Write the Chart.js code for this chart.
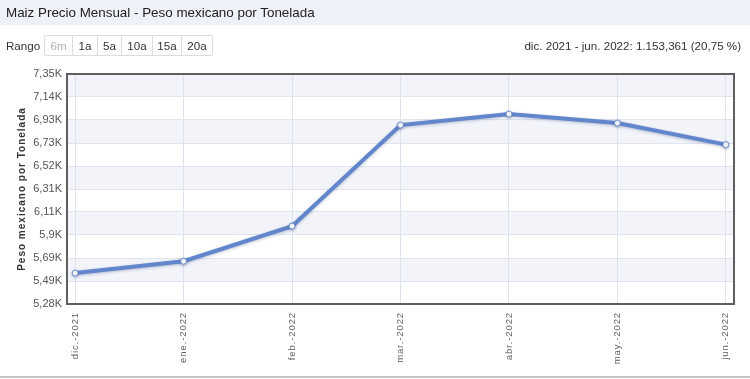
<!DOCTYPE html>
<html>
<head>
<meta charset="utf-8">
<script src="https://cdn.jsdelivr.net/npm/chart.js@4.4.1/dist/chart.umd.min.js"></script>
<style>
  html, body { margin:0; padding:0; background:#fff; }
  #wrap { position:relative; width:750px; height:379px; overflow:hidden; font-family:"Liberation Sans", Arial, sans-serif; }
  #hdr { position:absolute; left:0; top:0; width:750px; height:25px; background:#eef1f8; }
  #ttl { position:absolute; left:6px; top:5px; font-size:13.4px; color:#222; white-space:nowrap; }
  #rng { position:absolute; left:6px; top:39px; font-size:11.6px; color:#333; }
  #btns { position:absolute; left:44px; top:35px; height:21px; display:flex; border:1px solid #dcdcdc; border-radius:2px; box-sizing:border-box; }
  #btns div { height:19px; line-height:19px; font-size:11.6px; color:#333; text-align:center; border-left:1px solid #dcdcdc; box-sizing:border-box; }
  #btns div:first-child { border-left:none; color:#b0b0b0; }
  #chg { position:absolute; right:9px; top:39px; font-size:11.6px; color:#333; white-space:nowrap; }
  #bot { position:absolute; left:0; top:376px; width:750px; height:2px; background:#c4c4c4; }
  canvas { position:absolute; left:0; top:0; }
</style>
</head>
<body>
<div id="wrap">
  <canvas id="c" width="750" height="379"></canvas>
  <div id="hdr"><div id="ttl">Maiz Precio Mensual - Peso mexicano por Tonelada</div></div>
  <div id="rng">Rango</div>
  <div id="btns"></div>
  <div id="chg">dic. 2021 - jun. 2022: 1.153,361 (20,75 %)</div>
  <div id="bot"></div>
</div>
<script>
const categories = ['dic.-2021','ene.-2022','feb.-2022','mar.-2022','abr.-2022','may.-2022','jun.-2022'];
const prices = [5558, 5665, 5980, 6888, 6987, 6906, 6712];
const yTickValues = [5280, 5486.7, 5693.4, 5900.1, 6106.8, 6313.5, 6520.2, 6726.9, 6933.6, 7140.3, 7347];
const yTickLabels = ['5,28K','5,49K','5,69K','5,9K','6,11K','6,31K','6,52K','6,73K','6,93K','7,14K','7,35K'];
const rangeButtons = ['6m','1a','5a','10a','15a','20a'];
const buttonWidths = [27, 25, 24, 31, 29, 31];

const btns = document.getElementById('btns');
rangeButtons.forEach((b, i) => {
  const d = document.createElement('div');
  d.textContent = b;
  d.style.width = buttonWidths[i] + 'px';
  btns.appendChild(d);
});

const spacingPlugin = {
  id: 'spacing',
  beforeDraw(chart) {
    const x = chart.scales.x, y = chart.scales.y;
    if (!x._patched) {
      const orig = x.drawLabels.bind(x);
      x.drawLabels = function (a) { chart.ctx.save(); chart.ctx.letterSpacing = '0.9px'; orig(a); chart.ctx.restore(); };
      x._patched = true;
    }
    if (!y._patched) {
      const origT = y.drawTitle.bind(y);
      y.drawTitle = function (a) { chart.ctx.save(); chart.ctx.letterSpacing = '1px'; origT(a); chart.ctx.restore(); };
      y._patched = true;
    }
    const ctx = chart.ctx, ca = chart.chartArea;
    ctx.save();
    for (let i = 0; i < yTickValues.length - 1; i++) {
      if ((yTickValues.length - 2 - i) % 2 === 0) {
        const p1 = y.getPixelForValue(yTickValues[i + 1]);
        const p0 = y.getPixelForValue(yTickValues[i]);
        ctx.fillStyle = '#f2f4fa';
        ctx.fillRect(ca.left, p1, ca.right - ca.left, p0 - p1);
      }
    }
    ctx.restore();
  },
  beforeDatasetDraw(chart) {
    const ctx = chart.ctx;
    ctx.save();
    ctx.shadowColor = 'rgba(40,60,120,0.30)';
    ctx.shadowBlur = 3;
    ctx.shadowOffsetY = 1;
  },
  afterDatasetDraw(chart) {
    chart.ctx.restore();
  },
  afterDraw(chart) {
    const ctx = chart.ctx, ca = chart.chartArea;
    ctx.save();
    ctx.strokeStyle = '#5f5f5f';
    ctx.lineWidth = 2;
    ctx.strokeRect(ca.left, ca.top, ca.right - ca.left, ca.bottom - ca.top);
    ctx.restore();
  }
};

new Chart(document.getElementById('c'), {
  type: 'line',
  data: {
    datasets: [{
      data: categories.map((c, i) => ({ x: i, y: prices[i] })),
      borderColor: '#6286cb',
      borderWidth: 4,
      pointRadius: 3,
      pointBackgroundColor: '#ffffff',
      pointBorderColor: '#6f8fcc',
      pointBorderWidth: 1,
      tension: 0,
      fill: false
    }]
  },
  options: {
    responsive: false,
    devicePixelRatio: 1,
    animation: false,
    layout: { padding: { top: 74, right: 16, left: 0, bottom: 0 } },
    plugins: { legend: { display: false }, tooltip: { enabled: false } },
    scales: {
      x: {
        type: 'linear',
        min: -0.075,
        max: 6.075,
        afterBuildTicks(s) { s.ticks = categories.map((c, i) => ({ value: i })); },
        afterFit(s) { s.height = 75; },
        grid: { color: '#dde3ee', drawTicks: false },
        border: { display: false },
        ticks: {
          autoSkip: false,
          minRotation: 90,
          maxRotation: 90,
          padding: 8,
          color: '#606060',
          font: { family: 'Liberation Sans', size: 9.5 },
          callback: (v) => categories[v]
        }
      },
      y: {
        min: 5280,
        max: 7347,
        afterBuildTicks(s) { s.ticks = yTickValues.map(v => ({ value: v })); },
        afterFit(s) { s.width = 67; },
        grid: { color: '#dfe4ee', drawTicks: false },
        border: { display: false },
        ticks: {
          padding: 5,
          color: '#555',
          font: { family: 'Liberation Sans', size: 11 },
          callback: (v, i) => yTickLabels[i]
        },
        title: {
          display: true,
          text: 'Peso mexicano por Tonelada',
          color: '#333',
          padding: { top: 16, bottom: 0 },
          font: { family: 'Liberation Sans', size: 10, weight: 'bold' }
        }
      }
    }
  },
  plugins: [spacingPlugin]
});
</script>
</body>
</html>
